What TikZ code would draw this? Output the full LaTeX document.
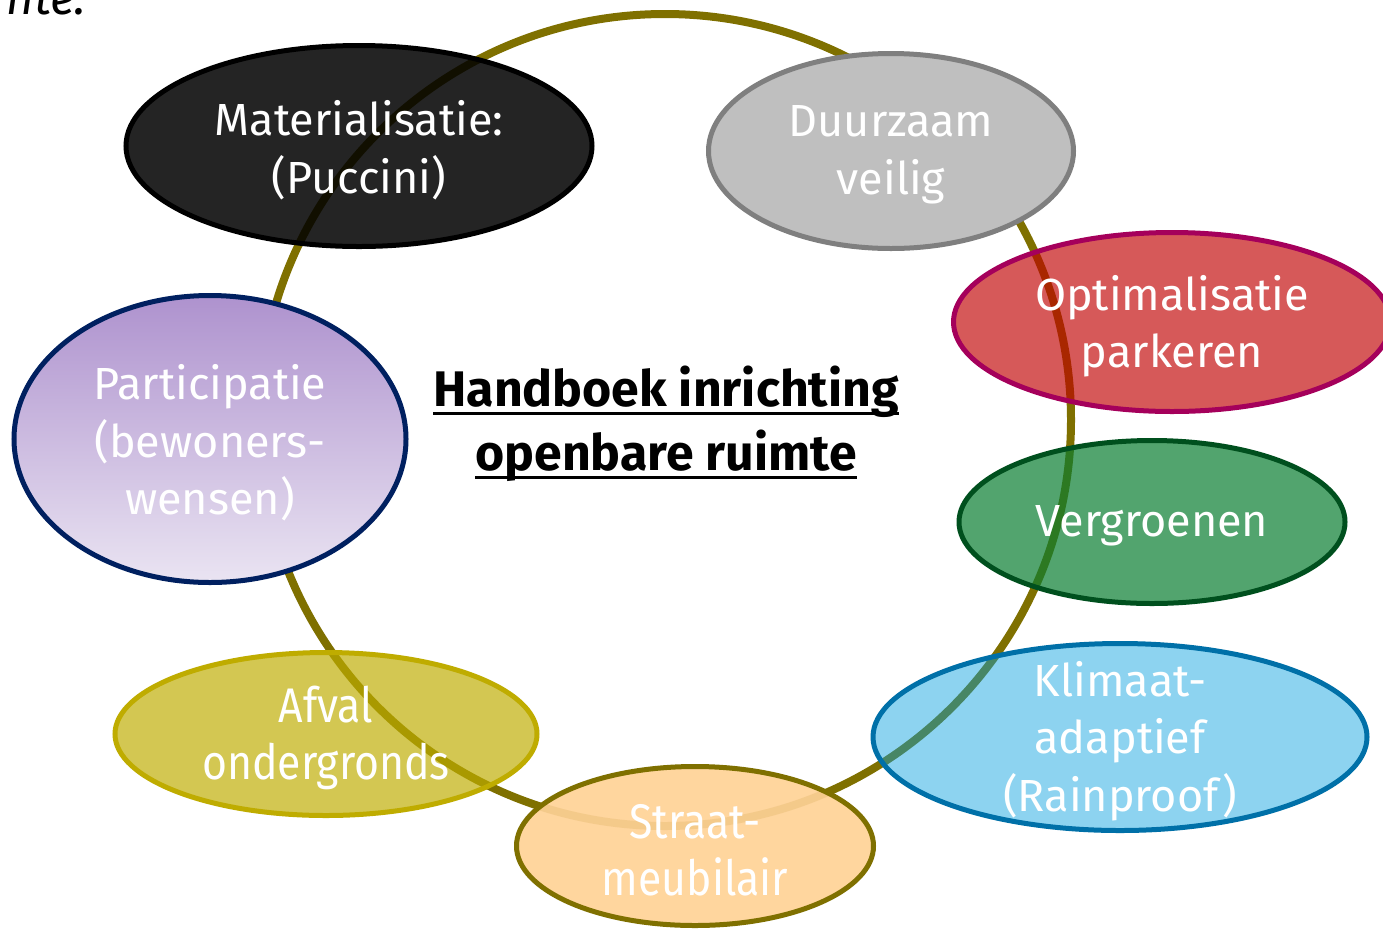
\documentclass[tikz,border=0pt]{standalone}
\usepackage{fontspec}
\setmainfont{Fira Sans}
\usetikzlibrary{shapes.geometric}
\newcommand{\thickul}[1]{\setbox0\hbox{#1}\rlap{\rule[-8pt]{\wd0}{2.6pt}}\box0}
\definecolor{ringcol}{HTML}{7F7000}
\definecolor{duurfill}{HTML}{BFBFBF}
\definecolor{duurline}{HTML}{7F7F7F}
\definecolor{optfill}{HTML}{C00000}
\definecolor{optline}{HTML}{A5005B}
\definecolor{vergfill}{HTML}{097D31}
\definecolor{vergline}{HTML}{00501E}
\definecolor{klimfill}{HTML}{07A0DE}
\definecolor{klimline}{HTML}{0070A8}
\definecolor{strfill}{HTML}{FFD296}
\definecolor{afvfill}{HTML}{BEAD00}
\definecolor{afvline}{HTML}{BFAC00}
\definecolor{parttop}{HTML}{AE92CE}
\definecolor{partbot}{HTML}{EAE4F2}
\definecolor{partline}{HTML}{002060}
\begin{document}
\begin{tikzpicture}[x=1pt,y=-1pt,
  bubble/.style={ellipse, inner sep=0pt, line width=5pt},
  bubtext/.style={text=white, fill opacity=1, text opacity=1, align=center, inner sep=0pt,
    yshift=-4pt, font=\fontsize{45}{57.5}\selectfont},
  ring/.style={draw=ringcol, line width=8pt}]
\useasboundingbox (0,0) rectangle (1383,930);
\node[anchor=base west, font=\itshape\fontsize{48}{56}\selectfont, inner sep=0pt] (cut) at (6,14) {nte.};
\node[circle, ring, minimum size=812pt, inner sep=0pt] (ringc) at (665,420) {};
\node[bubble, draw=black, fill=black, fill opacity=0.86, minimum width=466pt, minimum height=201pt,
  label={[bubtext]center:Materialisatie:\\(Puccini)}] (mat) at (359,146) {};
\node[bubble, draw=duurline, fill=duurfill, minimum width=365pt, minimum height=195pt,
  label={[bubtext]center:Duurzaam\\veilig}] (duur) at (891,151) {};
\node[bubble, draw=optline, fill=optfill, fill opacity=0.65, minimum width=437pt, minimum height=179pt,
  label={[bubtext]center:Optimalisatie\\parkeren}] (opt) at (1172,322) {};
\node[bubble, draw=vergline, fill=vergfill, fill opacity=0.7, minimum width=386pt, minimum height=163pt,
  label={[bubtext]center:Vergroenen}] (verg) at (1152,522) {};
\node[bubble, draw=klimline, fill=klimfill, fill opacity=0.46, minimum width=494pt, minimum height=187pt,
  label={[bubtext]center:Klimaat-\\adaptief\\(Rainproof)}] (klim) at (1120,737) {};
\node[bubble, draw=ringcol, fill=strfill, fill opacity=0.92, minimum width=357pt, minimum height=159pt,
  label={[bubtext]center:\scalebox{0.95}[1.08]{Straat-}\\\scalebox{0.95}[1.08]{meubilair}}] (str) at (695,846) {};
\node[bubble, draw=afvline, fill=afvfill, fill opacity=0.68, minimum width=422pt, minimum height=163pt,
  label={[bubtext]center:\scalebox{0.95}[1.08]{Afval}\\\scalebox{0.95}[1.08]{ondergronds}}] (afv) at (326,734) {};
\node[bubble, draw=partline, top color=parttop, bottom color=partbot, minimum width=392pt, minimum height=287pt,
  label={[bubtext]center:Participatie\\(bewoners-\\wensen)}] (part) at (210,439) {};
\node[align=center, font=\bfseries\fontsize{50}{64}\selectfont, inner sep=0pt] (title) at (666,424) {\thickul{Handboek inrichting}\\\thickul{openbare ruimte}};
\end{tikzpicture}
\end{document}
